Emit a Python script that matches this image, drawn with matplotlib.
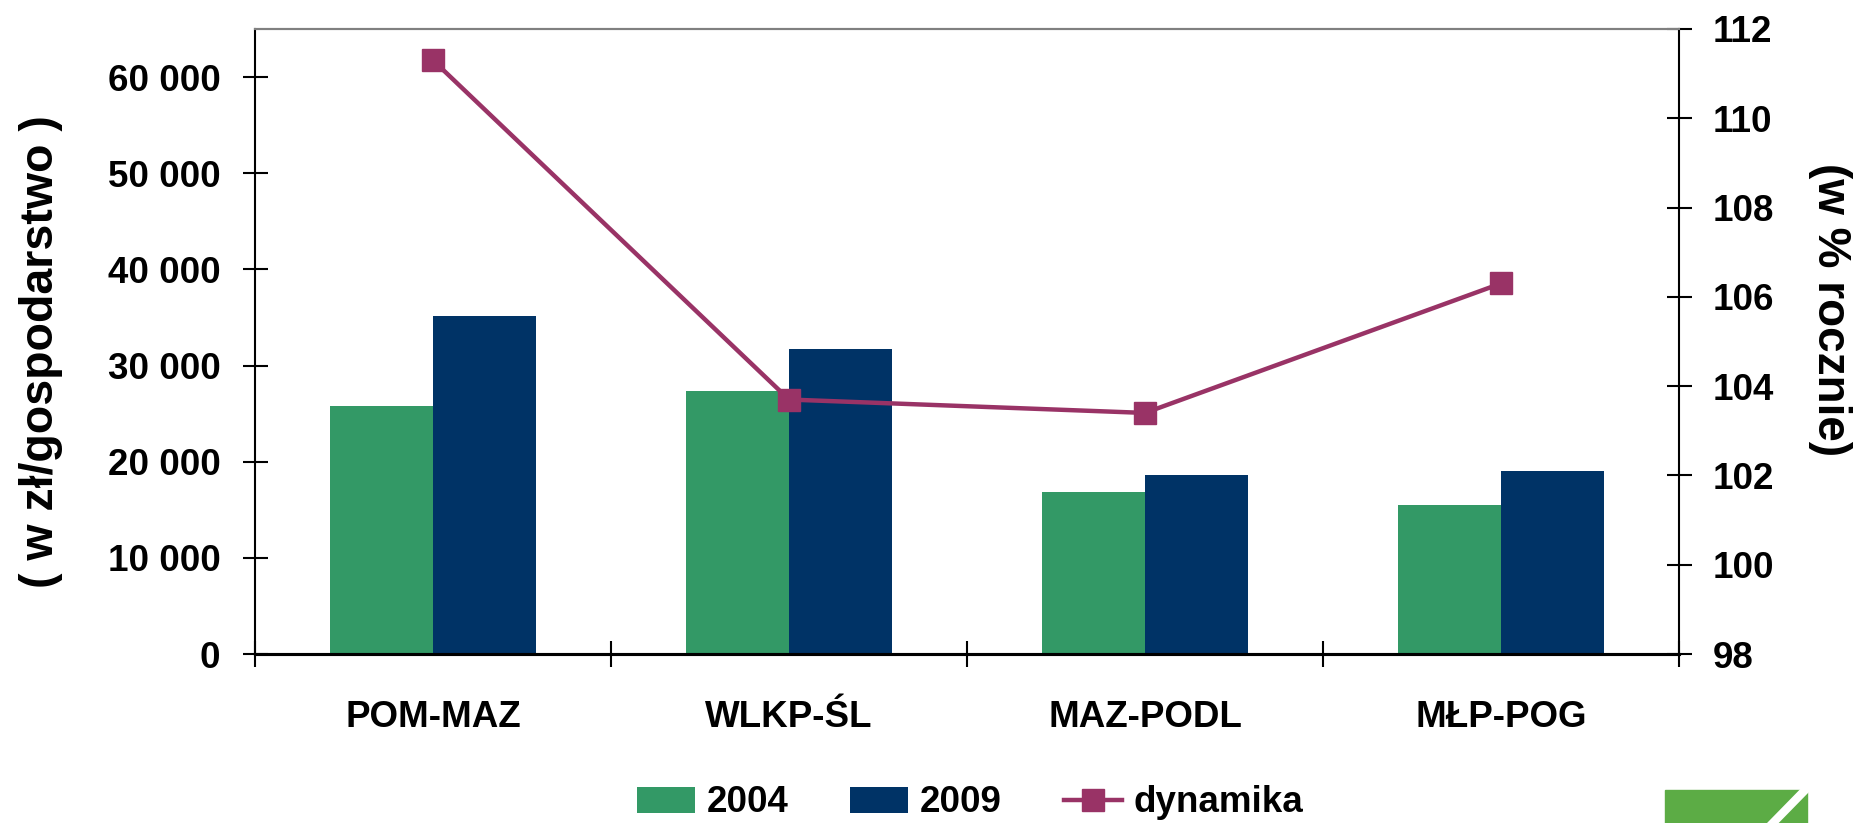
import matplotlib
matplotlib.use("Agg")
import matplotlib.pyplot as plt
import numpy as np
from matplotlib.patches import Rectangle
from matplotlib.lines import Line2D
from matplotlib.ticker import FuncFormatter

plt.rcParams['font.family'] = ['Liberation Sans', 'DejaVu Sans']
plt.rcParams['font.weight'] = 'bold'

regions = ['POM-MAZ', 'WLKP-ŚL', 'MAZ-PODL', 'MŁP-POG']
v2004 = [25800, 27400, 16800, 15500]
v2009 = [35200, 31700, 18600, 19000]
dynamika = [111.3, 103.7, 103.4, 106.3]

c2004 = '#339966'
c2009 = '#003366'
cdyn = '#993366'
fs = 26.5

W, H = 1854, 823
fig = plt.figure(figsize=(W / 100, H / 100), dpi=100)
ax = fig.add_axes([255 / W, 1 - 654 / H, (1679 - 255) / W, (654 - 29) / H])
ax2 = ax.twinx()

x = np.arange(len(regions))
w = 0.29
ax.bar(x - w / 2, v2004, w, color=c2004, label='2004', zorder=2)
ax.bar(x + w / 2, v2009, w, color=c2009, label='2009', zorder=2)
ax2.plot(x, dynamika, color=cdyn, lw=3.2, marker='s', ms=16.5,
         label='dynamika', zorder=3)

ax.set_xlim(-0.5, 3.5)
ax.set_ylim(0, 65000)
ax2.set_ylim(98, 112)

ax.set_yticks(np.arange(0, 60001, 10000))
ax.yaxis.set_major_formatter(FuncFormatter(lambda v, p: f"{v:,.0f}".replace(",", " ")))
ax2.set_yticks(np.arange(98, 113, 2))

# category boundaries as ticks, names in the middle
ax.set_xticks(np.arange(-0.5, 3.6, 1))
ax.set_xticklabels([])
ax.set_xticks(x, minor=True)
ax.set_xticklabels(regions, minor=True, fontsize=fs, fontweight='bold')
ax.tick_params(axis='x', which='minor', length=0, pad=33)
ax.tick_params(axis='x', which='major', direction='inout', length=19, width=1.5)
ax.tick_params(axis='y', direction='inout', length=18, width=1.5, pad=16, labelsize=fs)
ax2.tick_params(axis='y', direction='inout', length=18, width=1.5, pad=15, labelsize=fs)

for a in (ax, ax2):
    a.spines['top'].set_color('#808080')
    a.spines['top'].set_linewidth(1.5)
    a.spines['left'].set_linewidth(1.5)
    a.spines['right'].set_linewidth(1.5)
    a.spines['bottom'].set_linewidth(2.2)
ax.spines['right'].set_visible(False)
ax2.spines['left'].set_visible(False)

fig.text(41 / W, 1 - 352 / H, '( w zł/gospodarstwo )', rotation=90,
         ha='center', va='center', fontsize=33.5, fontweight='bold')
fig.text(1830 / W, 1 - 310 / H, '(w % rocznie)', rotation=270,
         ha='center', va='center', fontsize=33, fontweight='bold')

h1, l1 = ax.get_legend_handles_labels()
h2, l2 = ax2.get_legend_handles_labels()
fig.legend(h1 + h2, l1 + l2, loc='center', bbox_to_anchor=(970 / W, 1 - 803 / H),
           ncol=3, frameon=False, fontsize=fs, handlelength=1.58,
           handletextpad=0.32, columnspacing=1.68, numpoints=1)

# corner logo fragment
fig.patches.append(Rectangle((1665 / W, 0), (1807 - 1665) / W, (823 - 790) / H,
                             transform=fig.transFigure, color='#5cac45', zorder=5))
fig.lines.append(Line2D([1812 / W, 1766 / W], [1 - 783 / H, 1 - 830 / H],
                        transform=fig.transFigure, color='white', lw=6, zorder=6))

fig.savefig('out.png', dpi=100, facecolor='white')
